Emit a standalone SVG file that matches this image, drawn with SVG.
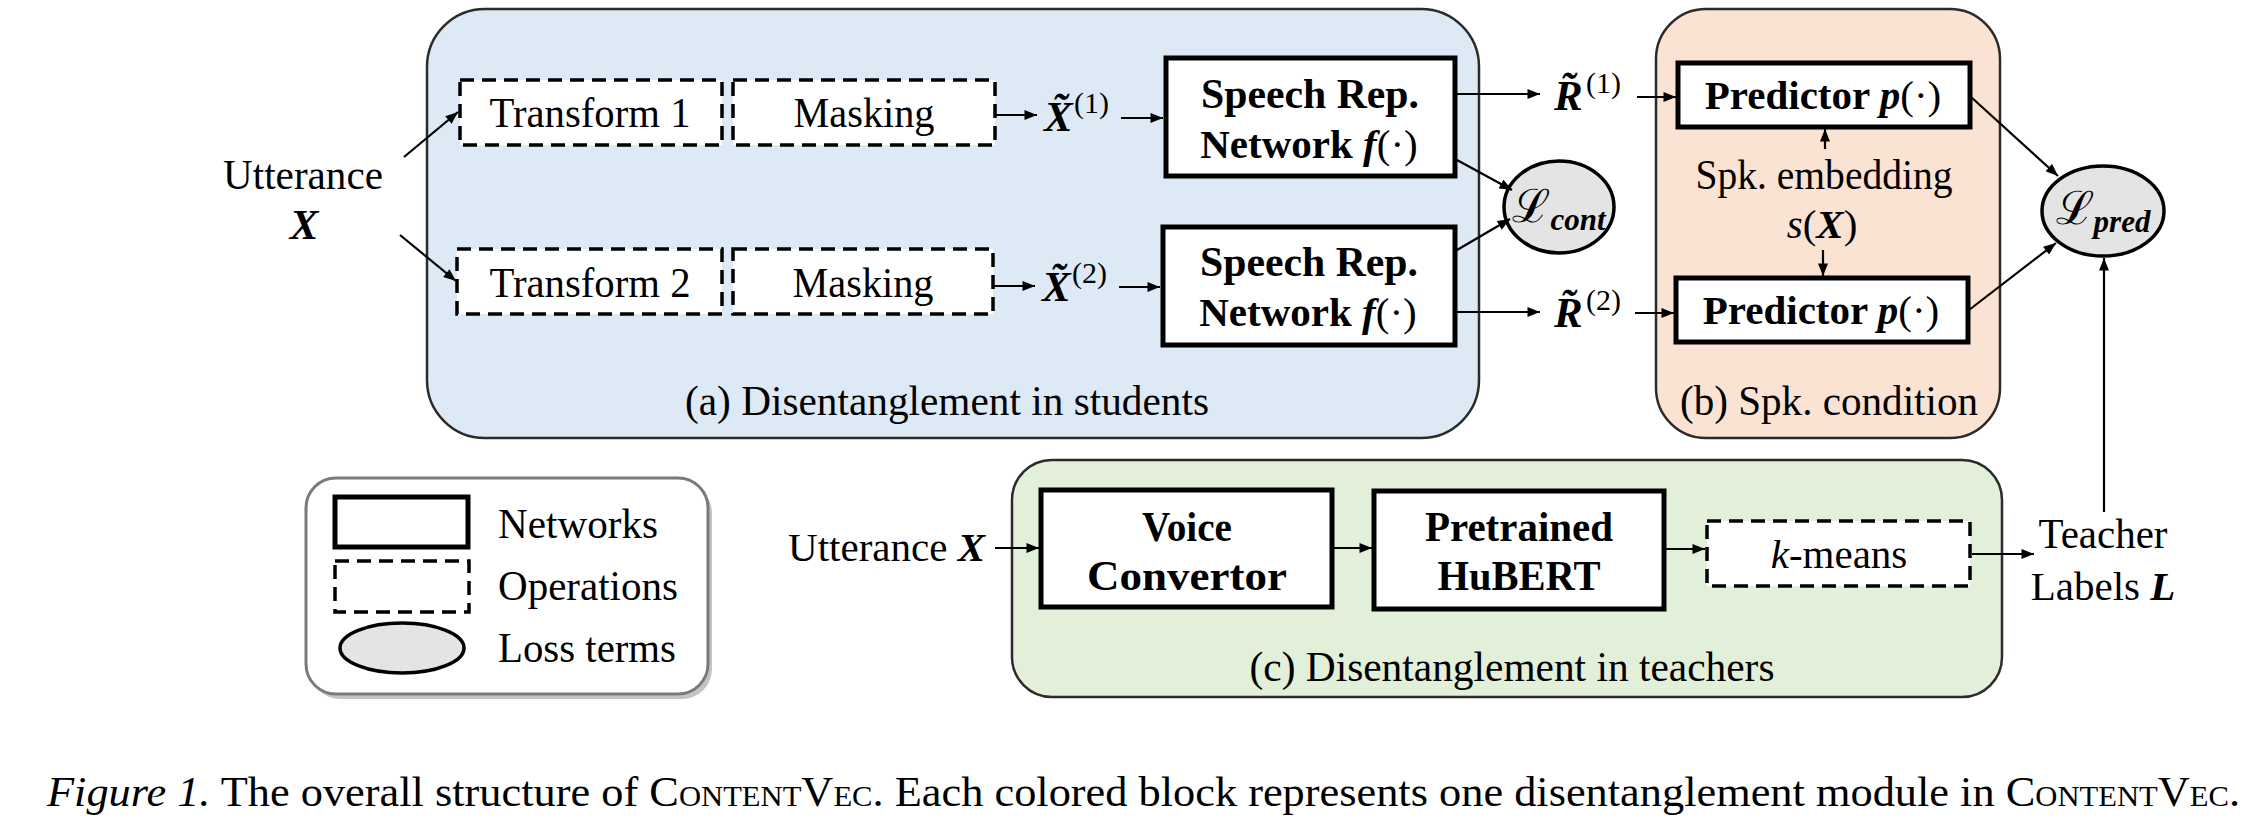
<svg xmlns="http://www.w3.org/2000/svg" width="2252" height="824" viewBox="0 0 2252 824">
<style>
text{font-family:"Liberation Serif","DejaVu Serif",serif;fill:#000}
.t{font-size:43px}
.m{font-size:41px}
.c{text-anchor:middle}
.b{font-weight:bold}
.bi{font-weight:bold;font-style:italic}
.i{font-style:italic}
.net{fill:#fff;stroke:#000;stroke-width:5}
.op{fill:#fff;stroke:#000;stroke-width:3.5;stroke-dasharray:14 8}
.loss{fill:#e4e4e4;stroke:#000;stroke-width:3.5}
.con{stroke:#000;stroke-width:2.2;fill:none}
.grp{stroke:#2b2b2b;stroke-width:2.5}
</style>
<defs>
<marker id="ah" viewBox="0 0 10 8" refX="10" refY="4" markerWidth="13" markerHeight="10" markerUnits="userSpaceOnUse" orient="auto">
<path d="M0,0 L10,4 L0,8 z" fill="#000"/>
</marker>
</defs>

<g id="groupA"><rect class="grp" x="427" y="9" width="1052" height="429" rx="58" fill="#dde9f5"/>
<text class="t c" x="947" y="415" textLength="524" lengthAdjust="spacingAndGlyphs">(a) Disentanglement in students</text></g>
<g id="groupB"><rect class="grp" x="1656" y="9" width="344" height="429" rx="50" fill="#fbe3d3"/>
<text class="t c" x="1829" y="415" textLength="298" lengthAdjust="spacingAndGlyphs">(b) Spk. condition</text></g>
<g id="groupC"><rect class="grp" x="1012" y="460" width="990" height="237" rx="40" fill="#e2efd9"/>
<text class="t c" x="1512" y="681" textLength="525" lengthAdjust="spacingAndGlyphs">(c) Disentanglement in teachers</text></g>

<g id="utterance1"><text class="t c" x="303" y="189" textLength="160" lengthAdjust="spacingAndGlyphs">Utterance</text><text class="t c bi" x="304" y="239">X</text></g>
<g id="transform1"><rect class="op" x="460" y="80" width="262" height="65"/><text class="t c" x="590" y="127" textLength="201" lengthAdjust="spacingAndGlyphs">Transform 1</text></g>
<g id="masking1"><rect class="op" x="733" y="80" width="262" height="65"/><text class="t c" x="864" y="127" textLength="141" lengthAdjust="spacingAndGlyphs">Masking</text></g>
<g id="transform2"><rect class="op" x="457" y="249" width="265" height="65"/><text class="t c" x="590" y="297" textLength="201" lengthAdjust="spacingAndGlyphs">Transform 2</text></g>
<g id="masking2"><rect class="op" x="733" y="249" width="260" height="65"/><text class="t c" x="863" y="297" textLength="141" lengthAdjust="spacingAndGlyphs">Masking</text></g>

<g id="xt1"><text class="bi" font-size="43" x="1044" y="131">X&#771;</text><text font-size="30" x="1074" y="113">(1)</text></g>
<g id="xt2"><text class="bi" font-size="43" x="1042" y="301">X&#771;</text><text font-size="30" x="1072" y="283">(2)</text></g>

<g id="speech1"><rect class="net" x="1166" y="58" width="289" height="118"/>
<text class="t c b" x="1310" y="108" textLength="218" lengthAdjust="spacingAndGlyphs">Speech Rep.</text>
<text class="m c" x="1309" y="158"><tspan class="b">Network </tspan><tspan class="bi">f</tspan>(·)</text></g>
<g id="speech2"><rect class="net" x="1163" y="227" width="292" height="118"/>
<text class="t c b" x="1309" y="276" textLength="218" lengthAdjust="spacingAndGlyphs">Speech Rep.</text>
<text class="m c" x="1308" y="326"><tspan class="b">Network </tspan><tspan class="bi">f</tspan>(·)</text></g>

<g id="rt1"><text class="bi" font-size="43" x="1554" y="110">R&#771;</text><text font-size="30" x="1586" y="93">(1)</text></g>
<g id="rt2"><text class="bi" font-size="43" x="1554" y="327">R&#771;</text><text font-size="30" x="1586" y="310">(2)</text></g>

<g id="lcont"><ellipse class="loss" cx="1559" cy="207" rx="55" ry="46"/>
<text x="1559" y="222" class="c"><tspan font-size="46">ℒ</tspan><tspan class="bi" font-size="31" dy="8">cont</tspan></text></g>

<g id="predictor1"><rect class="net" x="1678" y="63" width="292" height="64"/>
<text class="m c" x="1823" y="109"><tspan class="b">Predictor </tspan><tspan class="bi">p</tspan>(·)</text></g>
<g id="predictor2"><rect class="net" x="1676" y="278" width="292" height="64"/>
<text class="m c" x="1821" y="324"><tspan class="b">Predictor </tspan><tspan class="bi">p</tspan>(·)</text></g>
<g id="spkemb"><text class="t c" x="1824" y="189" textLength="257" lengthAdjust="spacingAndGlyphs">Spk. embedding</text>
<text class="m c" x="1822" y="238"><tspan class="i">s</tspan>(<tspan class="bi">X</tspan>)</text></g>

<g id="lpred"><ellipse class="loss" cx="2103" cy="211" rx="61" ry="45"/>
<text x="2103" y="224" class="c"><tspan font-size="46">ℒ</tspan><tspan class="bi" font-size="31" dy="8">pred</tspan></text></g>

<g id="legend">
<rect x="310" y="483" width="402" height="216" rx="30" fill="#c4c4c4"/>
<rect x="306" y="478" width="402" height="216" rx="30" fill="#fff" stroke="#7a7a7a" stroke-width="3"/>
<rect class="net" x="335" y="497" width="133" height="50"/>
<rect class="op" x="335" y="561" width="134" height="51"/>
<ellipse class="loss" cx="402" cy="648" rx="62" ry="25"/>
<text class="t" x="498" y="538" textLength="160" lengthAdjust="spacingAndGlyphs">Networks</text>
<text class="t" x="498" y="600" textLength="180" lengthAdjust="spacingAndGlyphs">Operations</text>
<text class="t" x="498" y="662" textLength="178" lengthAdjust="spacingAndGlyphs">Loss terms</text>
</g>

<g id="utterance2"><text class="m" x="985" y="561" text-anchor="end">Utterance <tspan class="bi">X</tspan></text></g>
<g id="voice"><rect class="net" x="1041" y="490" width="291" height="117"/>
<text class="t c b" x="1187" y="541" textLength="90" lengthAdjust="spacingAndGlyphs">Voice</text><text class="t c b" x="1187" y="590" textLength="200" lengthAdjust="spacingAndGlyphs">Convertor</text></g>
<g id="hubert"><rect class="net" x="1374" y="491" width="290" height="118"/>
<text class="t c b" x="1519" y="541" textLength="188" lengthAdjust="spacingAndGlyphs">Pretrained</text><text class="t c b" x="1519" y="590" textLength="163" lengthAdjust="spacingAndGlyphs">HuBERT</text></g>
<g id="kmeans"><rect class="op" x="1707" y="521" width="263" height="65"/>
<text class="m c" x="1839" y="568"><tspan class="i">k</tspan>-means</text></g>
<g id="teacher"><text class="t c" x="2103" y="548" textLength="129" lengthAdjust="spacingAndGlyphs">Teacher</text>
<text class="m c" x="2103" y="600">Labels <tspan class="bi">L</tspan></text></g>

<g id="connectors">
<line class="con" x1="404" y1="157" x2="458" y2="112" marker-end="url(#ah)"/>
<line class="con" x1="400" y1="235" x2="456" y2="281" marker-end="url(#ah)"/>
<line class="con" x1="996" y1="115" x2="1037" y2="115" marker-end="url(#ah)"/>
<line class="con" x1="994" y1="286" x2="1035" y2="286" marker-end="url(#ah)"/>
<line class="con" x1="1121" y1="118" x2="1163" y2="118" marker-end="url(#ah)"/>
<line class="con" x1="1119" y1="287" x2="1160" y2="287" marker-end="url(#ah)"/>
<line class="con" x1="1457" y1="94" x2="1540" y2="94" marker-end="url(#ah)"/>
<line class="con" x1="1457" y1="312" x2="1540" y2="312" marker-end="url(#ah)"/>
<line class="con" x1="1457" y1="160" x2="1512" y2="190" marker-end="url(#ah)"/>
<line class="con" x1="1457" y1="250" x2="1510" y2="219" marker-end="url(#ah)"/>
<line class="con" x1="1637" y1="97" x2="1676" y2="97" marker-end="url(#ah)"/>
<line class="con" x1="1635" y1="313" x2="1674" y2="313" marker-end="url(#ah)"/>
<line class="con" x1="1825" y1="149" x2="1825" y2="129" marker-end="url(#ah)"/>
<line class="con" x1="1823" y1="250" x2="1823" y2="276" marker-end="url(#ah)"/>
<line class="con" x1="1971" y1="97" x2="2058" y2="176" marker-end="url(#ah)"/>
<line class="con" x1="1969" y1="310" x2="2056" y2="243" marker-end="url(#ah)"/>
<line class="con" x1="2104" y1="512" x2="2104" y2="258" marker-end="url(#ah)"/>
<line class="con" x1="995" y1="548" x2="1039" y2="548" marker-end="url(#ah)"/>
<line class="con" x1="1332" y1="548" x2="1372" y2="548" marker-end="url(#ah)"/>
<line class="con" x1="1665" y1="549" x2="1705" y2="549" marker-end="url(#ah)"/>
<line class="con" x1="1972" y1="554" x2="2034" y2="554" marker-end="url(#ah)"/>
</g>

<g id="caption"><text font-size="42" x="47" y="806" textLength="2193" lengthAdjust="spacingAndGlyphs"><tspan class="i">Figure 1.</tspan> The overall structure of <tspan font-variant="small-caps">ContentVec</tspan>. Each colored block represents one disentanglement module in <tspan font-variant="small-caps">ContentVec</tspan>.</text></g>
</svg>
